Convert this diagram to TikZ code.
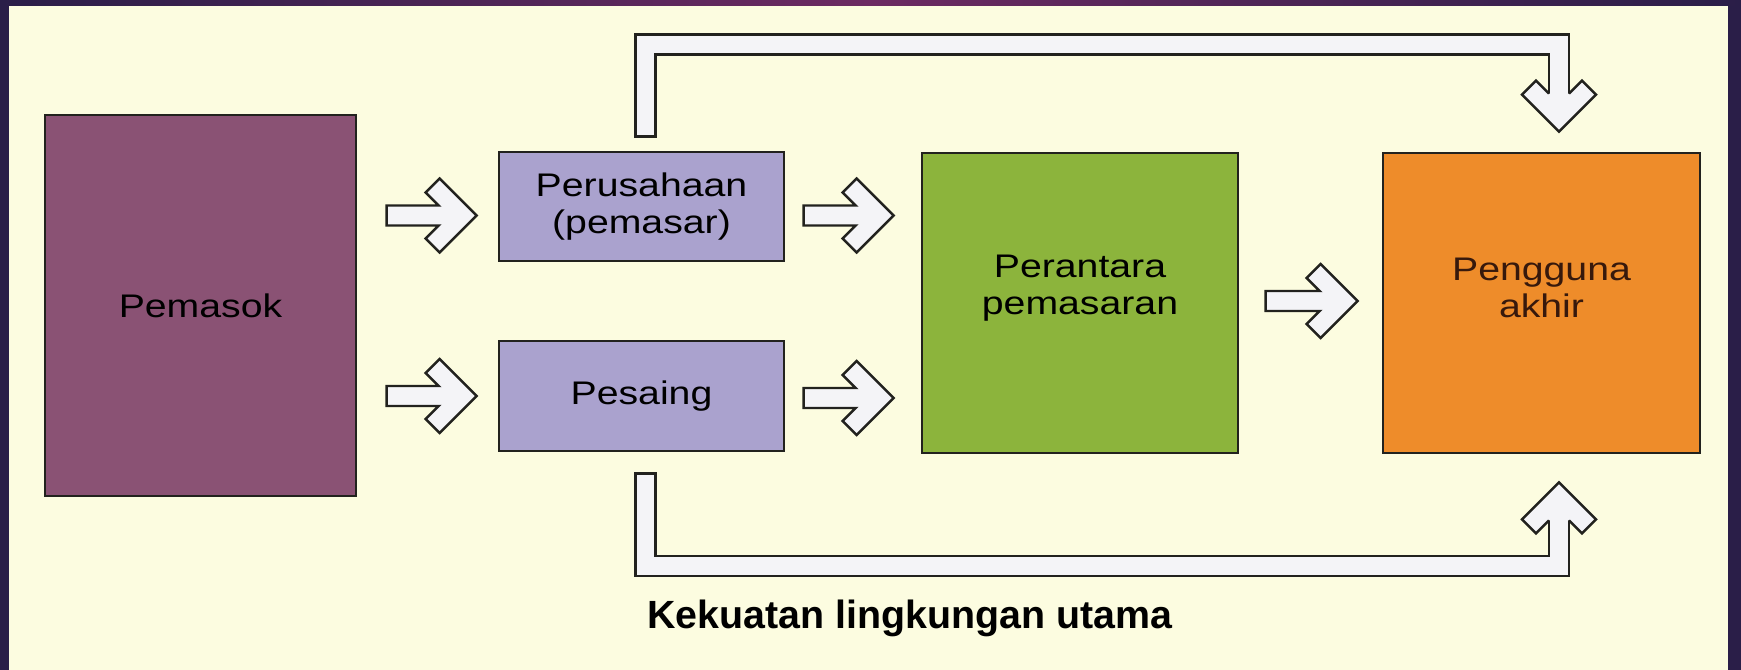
\documentclass[tikz,border=0pt]{standalone}
\usepackage{fontspec}
\setmainfont{Liberation Sans}
\newfontfamily\boxfont[FakeStretch=1.2]{Liberation Sans}
\usetikzlibrary{calc}

\definecolor{cream}{RGB}{252,252,224}
\definecolor{framedark}{RGB}{42,30,72}
\definecolor{framemid}{RGB}{108,42,98}
\definecolor{supplier}{RGB}{138,82,116}
\definecolor{lavender}{RGB}{170,162,206}
\definecolor{leaf}{RGB}{140,180,60}
\definecolor{tangerine}{RGB}{238,140,42}
\definecolor{darkbrown}{RGB}{55,25,12}
\definecolor{arrowfill}{RGB}{244,244,247}
\definecolor{outline}{RGB}{34,34,30}

\tikzset{
  box/.style = {rectangle,
      draw = outline,
      line width = 0.8pt,
      align = center,
      inner sep = 0pt,
      font = \boxfont\fontsize{9.3}{10.4}\selectfont},
  boxtext/.style = {align = center,
      font = \boxfont\fontsize{9.3}{10.4}\selectfont},
  arrowline/.style = {draw = outline, line width = 0.7pt, line join = miter},
  pipe/.style = {draw = outline,
      line width = 0.7pt,
      double = arrowfill,
      double distance = 4.99pt},
  pics/fatarrow/.style = {code = {
    \draw[arrowline, fill = arrowfill] (0,0) -- (-0.37,0.37) -- (-0.51,0.23)
      -- (-0.38,0.10) -- (-#1,0.10) -- (-#1,-0.10) -- (-0.38,-0.10)
      -- (-0.51,-0.23) -- (-0.37,-0.37) -- cycle;
  }},
  pics/fathead/.style = {code = {
    \fill[arrowfill] (0,0) -- (-0.37,0.37) -- (-0.51,0.23) -- (-0.38,0.10)
      -- (-0.38,-0.10) -- (-0.51,-0.23) -- (-0.37,-0.37) -- cycle;
    \draw[arrowline] (-0.38,0.10) -- (-0.51,0.23) -- (-0.37,0.37) -- (0,0)
      -- (-0.37,-0.37) -- (-0.51,-0.23) -- (-0.38,-0.10);
  }},
}

\begin{document}
\begin{tikzpicture}
\useasboundingbox (0,0) rectangle (17.41,6.70);

% background and frame
\fill[cream] (0,0) rectangle (17.41,6.70);
\fill[framedark] (0,0) rectangle (0.09,6.70);
\fill[framedark] (17.28,0) rectangle (17.41,6.70);
\shade[left color = framedark, right color = framedark, middle color = framemid]
  (0,6.64) rectangle (17.41,6.70);

% left column
\node[box,
    fill = supplier,
    minimum width = 3.11cm,
    minimum height = 3.81cm] (sup) at (2.005,3.645) {Pemasok};

% middle column
\node[box,
    fill = lavender,
    minimum width = 2.85cm,
    minimum height = 1.09cm] (firm) at (6.415,4.635) {Perusahaan\\(pemasar)};

\node[box,
    fill = lavender,
    minimum width = 2.85cm,
    minimum height = 1.10cm] (comp) at (6.415,2.74) {Pesaing};

% intermediaries
\node[box,
    fill = leaf,
    minimum width = 3.16cm,
    minimum height = 3.00cm] (mid) at (10.80,3.67) {};
\node[boxtext] (midtext) at ($(mid)+(0,0.15)$) {Perantara\\pemasaran};

% end users
\node[box,
    fill = tangerine,
    minimum width = 3.17cm,
    minimum height = 3.00cm] (user) at (15.415,3.67) {};
\node[boxtext, text = darkbrown] (usertext) at ($(user)+(0,0.15)$) {Pengguna\\akhir};

% flow arrows
\pic at ($(firm.west)+(-0.21,-0.09)$) {fatarrow=0.90};
\pic at ($(comp.west)+(-0.21,0)$) {fatarrow=0.90};
\pic at ($(mid.west |- firm.center)+(-0.27,-0.09)$) {fatarrow=0.90};
\pic at ($(mid.west |- comp.center)+(-0.27,-0.02)$) {fatarrow=0.90};
\pic at ($(user.west)+(-0.24,0.02)$) {fatarrow=0.92};

% top bypass
\coordinate (t0) at ($(firm.north)+(0.04,0.14)$);
\draw[pipe] (t0) |- ($(user.north)+(0.175,1.07)$) -- ($(user.north)+(0.175,0.58)$);
\draw[arrowline, line cap = rect] ($(t0)+(-0.10,0)$) -- ($(t0)+(0.10,0)$);
\pic[rotate = -90] at ($(user.north)+(0.175,0.20)$) {fathead};

% bottom bypass
\coordinate (b0) at ($(comp.south)+(0.04,-0.21)$);
\draw[pipe] (b0) |- ($(user.south)+(0.175,-1.115)$) -- ($(user.south)+(0.175,-0.66)$);
\draw[arrowline, line cap = rect] ($(b0)+(-0.10,0)$) -- ($(b0)+(0.10,0)$);
\pic[rotate = 90] at ($(user.south)+(0.175,-0.28)$) {fathead};

\node[anchor = base, font = \bfseries\fontsize{11.2}{13}\selectfont] (caption)
  at (9.10,0.41) {Kekuatan lingkungan utama};

\end{tikzpicture}
\end{document}
